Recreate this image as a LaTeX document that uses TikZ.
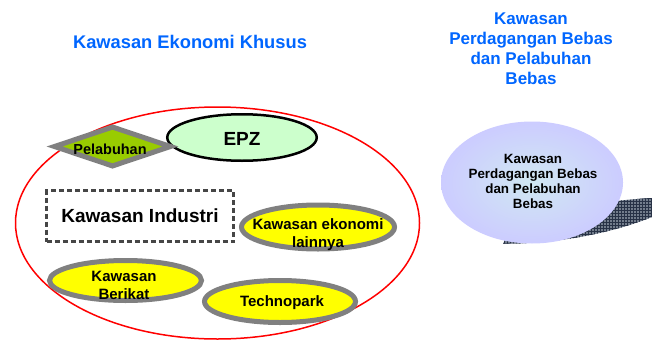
\documentclass[tikz,border=0pt]{standalone}
\usepackage{fontspec}
\setmainfont{Liberation Sans}
\usetikzlibrary{shapes.geometric,patterns}
\definecolor{titleblue}{RGB}{0,102,255}
\definecolor{zonered}{RGB}{255,0,0}
\definecolor{rimgrey}{RGB}{128,128,128}
\definecolor{zoneyellow}{RGB}{255,255,0}
\definecolor{portgreen}{RGB}{153,204,0}
\definecolor{epzgreen}{RGB}{204,255,204}
\definecolor{dashgrey}{RGB}{70,70,70}
\definecolor{lavender}{RGB}{204,204,255}
\definecolor{paleteal}{RGB}{208,232,242}
\definecolor{shadowbase}{RGB}{115,125,140}
\definecolor{shadowgrid}{RGB}{40,50,70}

\begin{document}
\begin{tikzpicture}[x=1pt,y=-1pt,
  heading/.style={text=titleblue,align=center,inner sep=0pt},
  zone/.style={ellipse,draw=rimgrey,line width=5pt,fill=zoneyellow,inner sep=0pt},
  lbl/.style={font=\fontsize{15}{18}\selectfont\bfseries,align=center,inner sep=0pt},
]
\useasboundingbox (0,0) rectangle (652,345);
\fill[white] (0,0) rectangle (652,345);

% headings
\node[heading,font=\fontsize{18.3}{20}\selectfont\bfseries] (kekt) at (190,42) {Kawasan Ekonomi Khusus};
\node[heading,font=\fontsize{17}{20}\selectfont\bfseries] (fztt) at (531,49)
  {Kawasan\\Perdagangan Bebas\\dan Pelabuhan\\Bebas};

% outer boundary of the special economic zone
\node[ellipse,draw=zonered,line width=1.5pt,inner sep=0pt,
      minimum width=404,minimum height=232] (kek) at (217.5,223) {};

% EPZ
\node[ellipse,draw=black,line width=2.5pt,fill=epzgreen,inner sep=0pt,
      minimum width=149.5,minimum height=46.5] (epz) at (242,137.5) {};
\node[font=\fontsize{19}{21}\selectfont\bfseries,inner sep=0pt] (epzt) at (242,139) {EPZ};

% port diamond
\node[diamond,draw=rimgrey,line width=5pt,fill=portgreen,inner sep=0pt,aspect=2.6,
      minimum width=118,minimum height=41] (pel) at (112.5,146.5) {};
\node[font=\fontsize{14.5}{16}\selectfont\bfseries,inner sep=0pt] (pelt) at (110,149) {Pelabuhan};

% industrial estate
\node[draw=dashgrey,line width=3pt,dash pattern=on 5pt off 3pt,fill=white,inner sep=0pt,
      minimum width=187,minimum height=51,
      font=\fontsize{19}{22}\selectfont\bfseries] (ind) at (140,216) {Kawasan Industri};

% other zones
\node[zone,minimum width=153,minimum height=44] (keo) at (318,227) {};
\node[lbl] (keot) at (318,234.5) {Kawasan ekonomi\\lainnya};

\node[zone,minimum width=152,minimum height=40] (ber) at (125.5,280.5) {};
\node[lbl] (bert) at (124,285) {Kawasan\\Berikat};

\node[zone,minimum width=151,minimum height=42] (tek) at (280,301.5) {};
\node[lbl] (tekt) at (282,303) {Technopark};

% free trade zone with its swoosh shadow
\path[fill=shadowbase] (503,243.5) .. controls (560,244) and (615,232) .. (652,217)
  -- (652,198) .. controls (630,199) and (600,203) .. (570,205) -- (520,215) -- cycle;
\path[pattern=grid,pattern color=shadowgrid] (503,243.5) .. controls (560,244) and (615,232) .. (652,217)
  -- (652,198) .. controls (630,199) and (600,203) .. (570,205) -- (520,215) -- cycle;
\node[ellipse,inner sep=0pt,minimum width=182,minimum height=122,
      inner color=paleteal,outer color=lavender] (fz) at (532,182.5) {};
\node[font=\fontsize{13.4}{15}\selectfont\bfseries,align=center,inner sep=0pt] (fzt) at (533,181)
  {Kawasan\\Perdagangan Bebas\\dan Pelabuhan\\Bebas};
\end{tikzpicture}
\end{document}
